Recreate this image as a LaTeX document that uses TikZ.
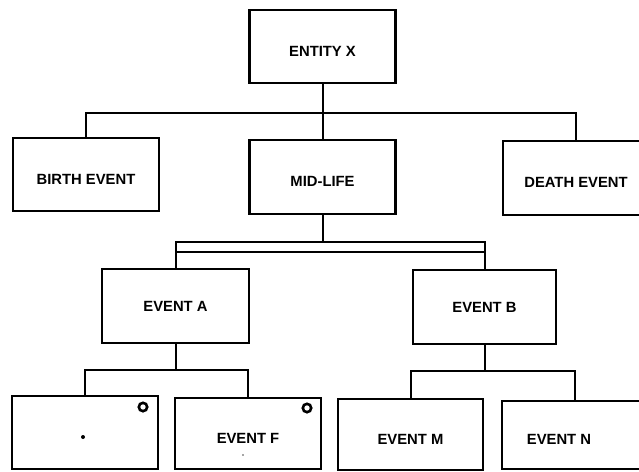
\documentclass[tikz,border=0pt]{standalone}
\usepackage{fontspec}
\setmainfont{Liberation Sans}
\begin{document}
\begin{tikzpicture}[x=1pt,y=-1pt,
  box/.style={draw=black, line width=2.8pt, fill=white, inner sep=0pt,
    minimum width=146pt, minimum height=73pt,
    font=\fontsize{14.8}{17}\selectfont\bfseries},
  lowtext/.style={text height=19pt, text depth=0pt},
  wire/.style={draw=black, line width=2pt},
  ring/.style={circle, draw=black, fill=white, line width=2.6pt,
    minimum size=8.4pt, inner sep=0pt},
  dotmark/.style={circle, fill=black, inner sep=0pt, minimum size=4pt}]
\path[use as bounding box] (0,0) rectangle (639,471);
\clip (0,0) rectangle (639,471);

% top level
\node[box, lowtext] (entity) at (322.5,46.5) {ENTITY X};

% life stages
\node[box, lowtext] (birth) at (86,174.5) {BIRTH EVENT};
\node[box, lowtext, minimum height=74pt] (mid) at (322.5,177) {MID-LIFE};
\node[box, lowtext, minimum height=74pt] (death) at (576,178) {DEATH EVENT};

% mid-life events
\node[box, minimum width=147pt, minimum height=74pt] (evA) at (175.5,306) {EVENT A};
\node[box, minimum width=143pt, minimum height=74pt] (evB) at (484.5,307) {EVENT B};

% leaf events
\node[box, lowtext] (evE) at (85,432.5) {};
\node[box, lowtext, minimum height=71pt] (evF) at (248,433.5) {EVENT F};
\node[box, lowtext, minimum width=145pt, minimum height=71pt] (evM) at (410.5,434.5) {EVENT M};
\node[box, lowtext, minimum height=68pt] (evN) at (575,435) {\hspace*{-32pt}EVENT N};

% markers inside the leaf boxes
\node[ring] (ringE) at (143,407) {};
\node[ring] (ringF) at (307,408) {};
\node[dotmark] (dotE) at (83,437) {};
\node[dotmark, minimum size=1.8pt, fill=black!70] (dotF) at (243,455) {};

% connectors
\coordinate (busA) at (322.5,113);
\draw[wire] (birth.north) |- (busA) -| (death.north);
\draw[wire] (entity.south) -- (mid.north);

\coordinate (busB) at (322.5,242);
\coordinate (busC) at (322.5,251.5);
\draw[wire] (mid.south) -- (busB);
\draw[wire] (evA.north) |- (busB) -| (evB.north);
\draw[wire] (evA.north |- busC) -- (evB.north |- busC);

\coordinate (busD) at (175.5,369.5);
\draw[wire] (evA.south) -- (busD);
\draw[wire] (evE.north) |- (busD) -| (evF.north);

\coordinate (busE) at (484.5,371);
\draw[wire] (evB.south) -- (busE);
\draw[wire] (evM.north) |- (busE) -| (evN.north);
\end{tikzpicture}
\end{document}
